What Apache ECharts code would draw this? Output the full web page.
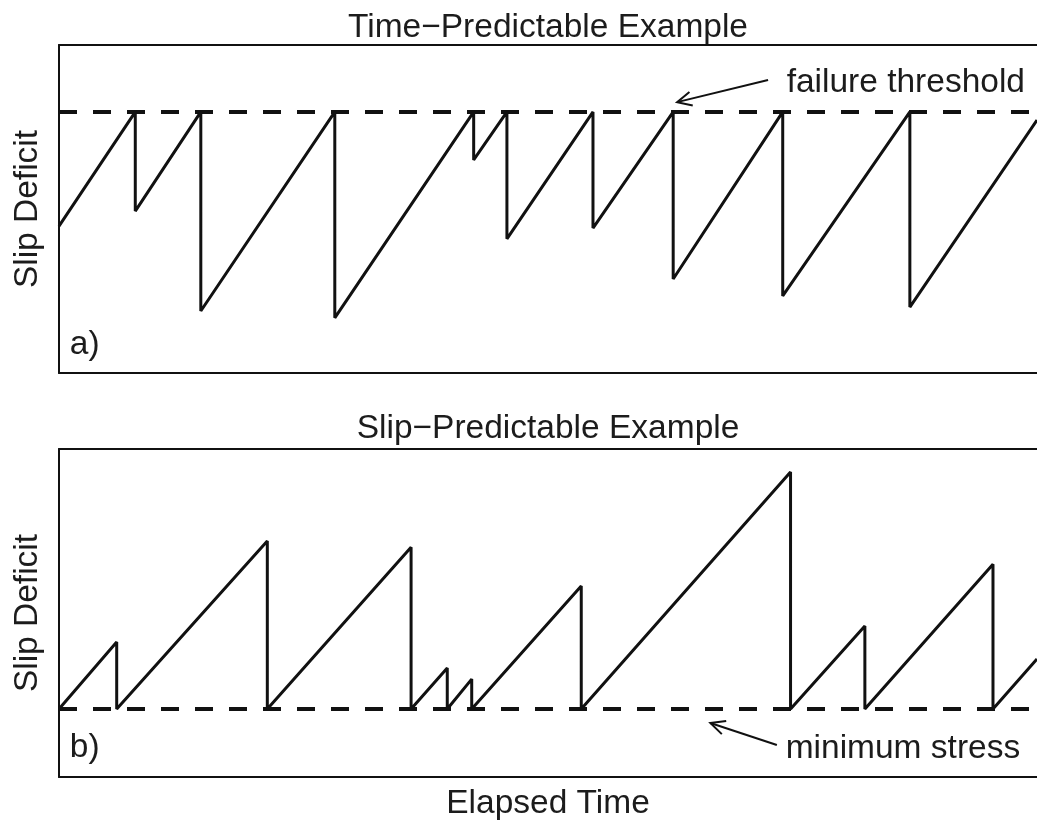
<!DOCTYPE html>
<html>
<head>
<meta charset="utf-8">
<script src="https://cdn.jsdelivr.net/npm/echarts@6/dist/echarts.min.js"></script>
<style>
  html, body { margin: 0; padding: 0; background: #fff; }
  #chart { width: 1037px; height: 825px; }
</style>
</head>
<body>
<div id="chart"></div>
<script>
// Time-predictable model: every event starts at the same failure threshold,
// the stress drop (and so the wait until the next event) varies.
const tpTime = [0, 7.8, 7.8, 14.5, 14.5, 28.2, 28.2, 42.4, 42.4, 45.8, 45.8, 54.6, 54.6, 62.8, 62.8, 74.0, 74.0, 87.0, 87.0, 100];
const tpSlip = [4.5, 8, 4.96, 8, 1.9, 8, 1.69, 8, 6.53, 8, 4.11, 8, 4.44, 8, 2.88, 8, 2.36, 8, 2.02, 7.75];

// Slip-predictable model: every event ends at the same minimum stress,
// the size of the event depends on how long the fault has loaded.
const spTime = [0, 5.9, 5.9, 21.3, 21.3, 36.0, 36.0, 39.7, 39.7, 42.2, 42.2, 53.4, 53.4, 74.8, 74.8, 82.4, 82.4, 95.5, 95.5, 100];
const spSlip = [2, 3.97, 2, 6.94, 2, 6.76, 2, 3.21, 2, 2.88, 2, 5.62, 2, 8.97, 2, 4.44, 2, 6.26, 2, 3.47];

const failureThreshold = 8;
const minimumStress = 2;

const panelTitles = ['Time\u2212Predictable Example', 'Slip\u2212Predictable Example'];
const panelTags = ['a)', 'b)'];
const yTitle = 'Slip Deficit';
const xTitle = 'Elapsed Time';

// Annotation anchors in data units: [time, slip]
const tagAnchors = [[1.1, 0.86], [1.1, 0.85]];
const noteTexts = ['failure threshold', 'minimum stress'];
const noteAnchors = [[74.4, 8.88], [74.3, 0.83]];
// Arrows: [tailTime, tailSlip, tipTime, tipSlip]
const noteArrows = [[72.5, 8.98, 63.2, 8.30], [73.4, 0.94, 66.6, 1.59]];

const INK = '#111';
const TEXT = '#1c1c1c';
const FONT = '"Liberation Sans", Arial, Helvetica, sans-serif';
const FS = 33.5;

const chart = echarts.init(document.getElementById('chart'), null, { renderer: 'canvas' });

function pairs(xs, ys) { return xs.map((x, i) => [x, ys[i]]); }

const axisLine = { show: true, lineStyle: { color: INK, width: 2 } };
const bare = { axisTick: { show: false }, axisLabel: { show: false }, splitLine: { show: false } };
const nameStyle = { fontSize: FS, fontFamily: FONT, color: TEXT };

const grids = [
  { left: 59, right: 0, top: 45, height: 328 },
  { left: 59, right: 0, top: 449, height: 328 }
];
const yMax = [10.05, 9.65];
const titleGap = [0, 3];

const xAxes = [];
const yAxes = [];
grids.forEach((g, i) => {
  xAxes.push(Object.assign({
    type: 'value', gridIndex: i, position: 'bottom', min: 0, max: 100,
    axisLine: axisLine,
    name: i === 1 ? xTitle : '', nameLocation: 'middle', nameGap: 10, nameTextStyle: nameStyle
  }, bare));
  xAxes.push(Object.assign({
    type: 'value', gridIndex: i, position: 'top', min: 0, max: 100,
    axisLine: axisLine,
    name: panelTitles[i], nameLocation: 'middle', nameGap: titleGap[i], nameTextStyle: nameStyle
  }, bare));
  yAxes.push(Object.assign({
    type: 'value', gridIndex: i, min: 0, max: yMax[i],
    axisLine: axisLine,
    name: yTitle, nameLocation: 'middle', nameGap: 14, nameTextStyle: nameStyle
  }, bare));
});

function textSeries(panel, items) {
  return {
    type: 'custom', xAxisIndex: panel * 2, yAxisIndex: panel, silent: true, z: 5,
    data: items.map((it, k) => [it.at[0], it.at[1], k]),
    encode: { x: 0, y: 1 },
    renderItem: function (params, api) {
      const p = api.coord([api.value(0), api.value(1)]);
      const it = items[api.value(2)];
      return {
        type: 'text', x: p[0], y: p[1],
        style: { text: it.text, fill: TEXT, font: FS + 'px ' + FONT, align: 'left', verticalAlign: 'middle' }
      };
    }
  };
}

function arrowSeries(panel, arrow) {
  return {
    type: 'custom', xAxisIndex: panel * 2, yAxisIndex: panel, silent: true, z: 5,
    data: [arrow],
    encode: { x: [0, 2], y: [1, 3] },
    renderItem: function (params, api) {
      const a = api.coord([api.value(0), api.value(1)]);
      const b = api.coord([api.value(2), api.value(3)]);
      const ang = Math.atan2(a[1] - b[1], a[0] - b[0]);
      const len = 16, spread = 0.45;
      const b1 = [b[0] + len * Math.cos(ang + spread), b[1] + len * Math.sin(ang + spread)];
      const b2 = [b[0] + len * Math.cos(ang - spread), b[1] + len * Math.sin(ang - spread)];
      const st = { stroke: INK, lineWidth: 2, fill: null };
      return {
        type: 'group',
        children: [
          { type: 'line', shape: { x1: a[0], y1: a[1], x2: b[0], y2: b[1] }, style: st },
          { type: 'polyline', shape: { points: [b1, b, b2] }, style: st }
        ]
      };
    }
  };
}

const dashed = { color: INK, width: 4, type: [18, 16] };

chart.setOption({
  animation: false,
  backgroundColor: '#fff',
  grid: grids,
  xAxis: xAxes,
  yAxis: yAxes,
  series: [
    {
      type: 'line', xAxisIndex: 0, yAxisIndex: 0, symbol: 'none', clip: true, z: 3,
      data: [[0, failureThreshold], [100, failureThreshold]],
      lineStyle: dashed
    },
    {
      type: 'line', xAxisIndex: 0, yAxisIndex: 0, symbol: 'none', clip: true, z: 4,
      data: pairs(tpTime, tpSlip),
      lineStyle: { color: INK, width: 3 }
    },
    {
      type: 'line', xAxisIndex: 2, yAxisIndex: 1, symbol: 'none', clip: true, z: 3,
      data: [[0, minimumStress], [100, minimumStress]],
      lineStyle: dashed
    },
    {
      type: 'line', xAxisIndex: 2, yAxisIndex: 1, symbol: 'none', clip: true, z: 4,
      data: pairs(spTime, spSlip),
      lineStyle: { color: INK, width: 3 }
    },
    textSeries(0, [{ text: panelTags[0], at: tagAnchors[0] }, { text: noteTexts[0], at: noteAnchors[0] }]),
    textSeries(1, [{ text: panelTags[1], at: tagAnchors[1] }, { text: noteTexts[1], at: noteAnchors[1] }]),
    arrowSeries(0, noteArrows[0]),
    arrowSeries(1, noteArrows[1])
  ]
});
</script>
</body>
</html>
